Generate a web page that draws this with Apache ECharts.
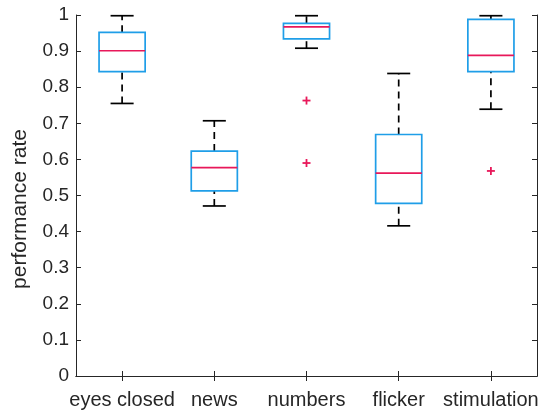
<!DOCTYPE html>
<html>
<head>
<meta charset="utf-8">
<script src="https://cdn.jsdelivr.net/npm/echarts@6/dist/echarts.min.js"></script>
<style>
html,body{margin:0;padding:0;background:#fff;}
#chart{width:546px;height:415px;}
</style>
</head>
<body>
<div id="chart"></div>
<script>
var categories = ['eyes closed', 'news', 'numbers', 'flicker', 'stimulation'];
var whiskerLow  = [0.755, 0.471, 0.908, 0.416, 0.739];
var q1          = [0.843, 0.513, 0.934, 0.478, 0.843];
var median      = [0.901, 0.577, 0.967, 0.562, 0.888];
var q3          = [0.952, 0.623, 0.977, 0.669, 0.988];
var whiskerHigh = [0.998, 0.707, 0.998, 0.838, 0.998];
var outlierCat   = [2, 2, 4];
var outlierValue = [0.763, 0.590, 0.568];
var yTicks = [0, 0.1, 0.2, 0.3, 0.4, 0.5, 0.6, 0.7, 0.8, 0.9, 1];
var yTitle = 'performance rate';

var BLUE = '#1f9ee8';
var RED = '#e8185a';
var AX = '#262626';
var FONT = 'Liberation Sans';

var boxData = categories.map(function (c, i) {
  return [i, whiskerLow[i], q1[i], median[i], q3[i], whiskerHigh[i]];
});
var outData = outlierCat.map(function (c, i) { return [c, outlierValue[i]]; });

var chart = echarts.init(document.getElementById('chart'), null, {renderer: 'canvas'});

function boxRender(params, api) {
  var idx = api.value(0);
  var pLow = api.coord([idx, api.value(1)]);
  var pQ1 = api.coord([idx, api.value(2)]);
  var pMed = api.coord([idx, api.value(3)]);
  var pQ3 = api.coord([idx, api.value(4)]);
  var pHigh = api.coord([idx, api.value(5)]);
  var band = api.size([1, 0])[0];
  var hw = band * 0.25;
  var cw = band * 0.125;
  var x = pMed[0];
  var lw = 1.7;
  var dash = {stroke: '#000', lineWidth: lw, lineDash: [7, 5]};
  var solid = {stroke: '#000', lineWidth: lw};
  return {
    type: 'group',
    children: [
      {type: 'line', shape: {x1: x, y1: pQ3[1], x2: x, y2: pHigh[1]}, style: dash},
      {type: 'line', shape: {x1: x, y1: pLow[1], x2: x, y2: pQ1[1]}, style: dash},
      {type: 'line', shape: {x1: x - cw, y1: pHigh[1], x2: x + cw, y2: pHigh[1]}, style: solid},
      {type: 'line', shape: {x1: x - cw, y1: pLow[1], x2: x + cw, y2: pLow[1]}, style: solid},
      {type: 'rect', shape: {x: x - hw, y: pQ3[1], width: 2 * hw, height: pQ1[1] - pQ3[1]},
        style: {fill: 'rgba(0,0,0,0)', stroke: BLUE, lineWidth: lw}},
      {type: 'line', shape: {x1: x - hw, y1: pMed[1], x2: x + hw, y2: pMed[1]},
        style: {stroke: RED, lineWidth: lw}}
    ]
  };
}

function outRender(params, api) {
  var p = api.coord([api.value(0), api.value(1)]);
  var s = 4;
  var st = {stroke: RED, lineWidth: 1.8};
  return {
    type: 'group',
    children: [
      {type: 'line', shape: {x1: p[0] - s, y1: p[1], x2: p[0] + s, y2: p[1]}, style: st},
      {type: 'line', shape: {x1: p[0], y1: p[1] - s, x2: p[0], y2: p[1] + s}, style: st}
    ]
  };
}

var axisLine = {show: true, lineStyle: {color: AX, width: 1}};
var tick = {show: true, inside: true, length: 5, lineStyle: {color: AX, width: 1}};

chart.setOption({
  animation: false,
  backgroundColor: '#fff',
  grid: {left: 76, right: 9, top: 15, bottom: 39, containLabel: false},
  graphic: [
    {type: 'text', x: 20, y: 209, rotation: Math.PI / 2,
      style: {text: yTitle, fill: AX, font: '21px "Liberation Sans"', textAlign: 'center', textVerticalAlign: 'middle'}}
  ],
  xAxis: [
    {type: 'category', data: categories, boundaryGap: true, position: 'bottom',
      axisLine: axisLine, axisTick: Object.assign({alignWithLabel: true}, tick),
      axisLabel: {color: AX, fontFamily: FONT, fontSize: 20, margin: 14, interval: 0, hideOverlap: false},
      splitLine: {show: false}},
    {type: 'category', data: categories, boundaryGap: true, position: 'top',
      axisLine: axisLine, axisTick: Object.assign({alignWithLabel: true}, tick),
      axisLabel: {show: false}, splitLine: {show: false}}
  ],
  yAxis: [
    {type: 'value', min: yTicks[0], max: yTicks[yTicks.length - 1], interval: 0.1, position: 'left',
      axisLine: axisLine, axisTick: tick,
      axisLabel: {color: AX, fontFamily: FONT, fontSize: 19, margin: 7},
      splitLine: {show: false}},
    {type: 'value', min: yTicks[0], max: yTicks[yTicks.length - 1], interval: 0.1, position: 'right',
      axisLine: axisLine, axisTick: tick, axisLabel: {show: false}, splitLine: {show: false}}
  ],
  series: [
    {type: 'custom', renderItem: boxRender, data: boxData, xAxisIndex: 0, yAxisIndex: 0,
      encode: {x: 0, y: [1, 2, 3, 4, 5]}, clip: false},
    {type: 'custom', renderItem: outRender, data: outData, xAxisIndex: 0, yAxisIndex: 0,
      encode: {x: 0, y: 1}, clip: false}
  ]
});
</script>
</body>
</html>
